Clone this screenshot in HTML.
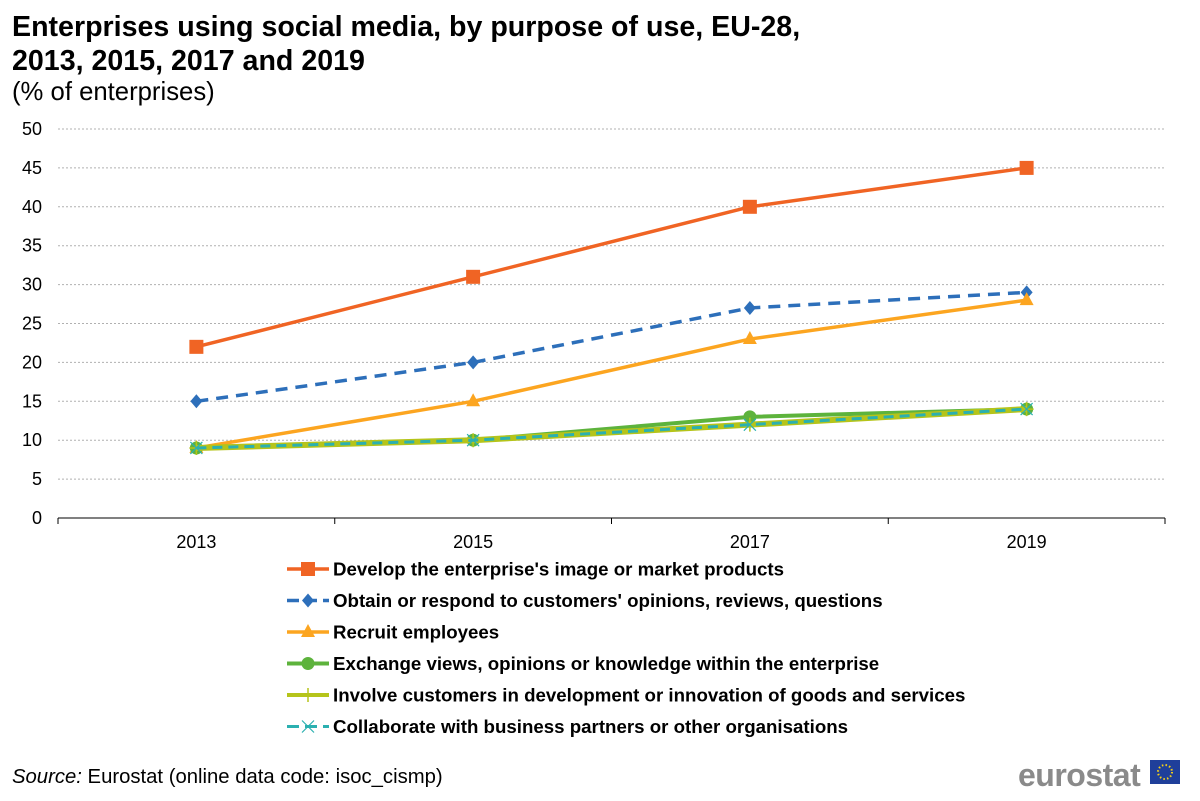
<!DOCTYPE html>
<html><head><meta charset="utf-8"><style>
body{margin:0;width:1200px;height:796px;background:#fff;font-family:"Liberation Sans",Arial,sans-serif;overflow:hidden}
svg text{font-family:"Liberation Sans",Arial,sans-serif}
</style></head><body>
<svg id="c" width="1200" height="796">
<text x="12" y="36" font-size="28.6" font-weight="bold" fill="#000">Enterprises using social media, by purpose of use, EU-28,</text>
<text x="12" y="70" font-size="28.6" font-weight="bold" fill="#000">2013, 2015, 2017 and 2019</text>
<text x="12" y="100" font-size="25.7" fill="#000">(% of enterprises)</text>
<g id="grid"></g><g id="axes"></g><g id="series"></g><g id="legend"></g>
<text x="12" y="783" font-size="20.3" fill="#000"><tspan font-style="italic">Source:</tspan> Eurostat (online data code: isoc_cismp)</text>
<text x="1018" y="786" font-size="32" font-weight="bold" fill="#8a8a8a" letter-spacing="-0.5">eurostat</text>
<rect x="1150" y="760" width="30" height="24" fill="#1f3f9a"/>
<circle cx="1165" cy="772" r="7" fill="none" stroke="#f7d117" stroke-width="2" stroke-dasharray="1.5 2.2"/>
</svg>
<script>
const categories=["2013","2015","2017","2019"];
const yTicks=[0,5,10,15,20,25,30,35,40,45,50];
const sDevelop=[22,31,40,45];
const sObtain=[15,20,27,29];
const sRecruit=[9,15,23,28];
const sExchange=[9,10,13,14];
const sInvolve=[9,10,12,14];
const sCollab=[9,10,12,14];
const seriesNames=["Develop the enterprise's image or market products","Obtain or respond to customers' opinions, reviews, questions","Recruit employees","Exchange views, opinions or knowledge within the enterprise","Involve customers in development or innovation of goods and services","Collaborate with business partners or other organisations"];
const NS="http://www.w3.org/2000/svg";
const X0=58,X1=1165,Y0=518,Y50=129;
const bw=(X1-X0)/categories.length;
const xs=i=>X0+bw*(i+0.5);
const ys=v=>Y0-(Y0-Y50)*v/50;
function mk(p,t,a){const e=document.createElementNS(NS,t);for(const k in a)e.setAttribute(k,a[k]);p.appendChild(e);return e;}
const grid=document.getElementById('grid'),axes=document.getElementById('axes'),ser=document.getElementById('series'),leg=document.getElementById('legend');
yTicks.forEach(v=>{
 if(v>0){const l=mk(grid,'line',{x1:X0,x2:X1,y1:ys(v),y2:ys(v),stroke:'#b0b0b0','stroke-dasharray':'2 2'});
 
 }
 const t=mk(axes,'text',{x:42,y:ys(v)+6,'text-anchor':'end','font-size':18,fill:'#000'});t.textContent=v;
 
 
});
const ax=mk(axes,'line',{x1:X0,x2:X1,y1:Y0,y2:Y0,stroke:'#000'});


for(let i=0;i<=categories.length;i++){const tk=mk(axes,'line',{x1:X0+bw*i,x2:X0+bw*i,y1:Y0,y2:Y0+6,stroke:'#000'});
 
 }
categories.forEach((c,i)=>{const t=mk(axes,'text',{x:xs(i),y:548,'text-anchor':'middle','font-size':18,fill:'#000'});t.textContent=c;
 
 });
const defs=[
 {d:sDevelop,c:'#f06424',m:'square',dash:null,w:3.5},
 {d:sObtain,c:'#2d6fba',m:'diamond',dash:'12 8',w:3.5},
 {d:sRecruit,c:'#fca520',m:'triangle',dash:null,w:3.5},
 {d:sExchange,c:'#5db33c',m:'circle',dash:null,w:4},
 {d:sInvolve,c:'#b5c41a',m:'plus',dash:null,w:6},
 {d:sCollab,c:'#2bb0b0',m:'x',dash:'10 6',w:3}
];
function marker(p,m,x,y,c){
 if(m==='square')return mk(p,'rect',{x:x-7,y:y-7,width:14,height:14,fill:c});
 if(m==='diamond')return mk(p,'polygon',{points:`${x},${y-7} ${x+6},${y} ${x},${y+7} ${x-6},${y}`,fill:c});
 if(m==='triangle')return mk(p,'polygon',{points:`${x},${y-8} ${x+7},${y+5} ${x-7},${y+5}`,fill:c});
 if(m==='circle')return mk(p,'circle',{cx:x,cy:y,r:6.5,fill:c});
 if(m==='plus')return mk(p,'path',{d:`M${x-7} ${y}H${x+7}M${x} ${y-7}V${y+7}`,stroke:c,'stroke-width':1.5});
 return mk(p,'path',{d:`M${x-6} ${y-6}L${x+6} ${y+6}M${x+6} ${y-6}L${x-6} ${y+6}`,stroke:c,'stroke-width':1.2});
}
defs.forEach((s,k)=>{
 const g=mk(ser,'g',{});
 
 
 const a={points:s.d.map((v,i)=>xs(i)+','+ys(v)).join(' '),fill:'none',stroke:s.c,'stroke-width':s.w};
 if(s.dash)a['stroke-dasharray']=s.dash;
 const pl=mk(g,'polyline',a);
 
 
 s.d.forEach((v,i)=>{const mm=marker(g,s.m,xs(i),ys(v),s.c);
  
  });
 const ly=569+k*31.5;
 const lg=mk(leg,'g',{});
 
 
 const la={x1:287,x2:329,y1:ly,y2:ly,stroke:s.c,'stroke-width':s.w>4?4:s.w};
 if(s.dash)la['stroke-dasharray']='12 6';
 mk(lg,'line',la);
 marker(lg,s.m,308,ly,s.c);
 const t=mk(lg,'text',{x:333,y:ly+6.5,'font-size':18.7,'font-weight':'bold',fill:'#000'});t.textContent=seriesNames[k];
});
</script>
</body></html>
